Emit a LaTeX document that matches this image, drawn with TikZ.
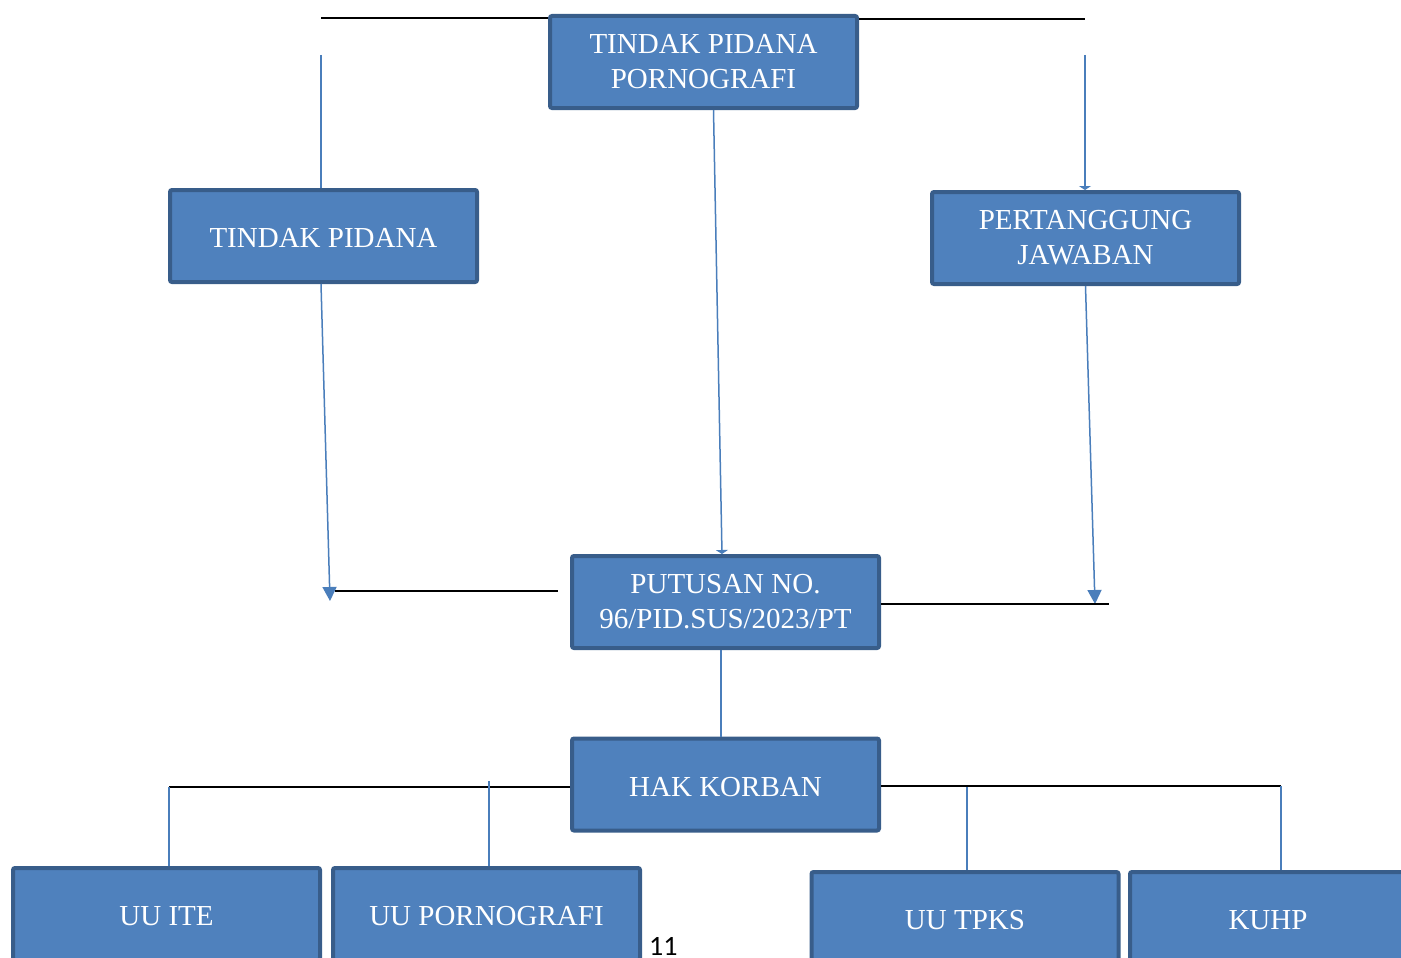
\documentclass[tikz,border=0pt]{standalone}
\usepackage{fontspec}
\setmainfont{Liberation Serif}
\newfontfamily\calibrifont{Carlito}
\usetikzlibrary{arrows.meta,calc}
\definecolor{boxfill}{HTML}{4F81BD}
\definecolor{boxline}{HTML}{385D8A}
\definecolor{conn}{HTML}{4A7EBB}
\begin{document}
\begin{tikzpicture}[x=1pt,y=-1pt,
  box/.style={draw=boxline, line width=4pt, fill=boxfill, rounded corners=2pt,
    minimum width=307pt, minimum height=92pt, text=white,
    font=\fontsize{29}{35}\selectfont, align=center, inner sep=0pt,
    execute at begin node={\rule{0pt}{24pt}}},
  box2/.style={box, execute at begin node={\rule{0pt}{28.5pt}}},
  bl/.style={draw=conn, line width=1.5pt},
  bk/.style={draw=black, line width=2pt},
  arr/.style={-{Triangle[width=14pt,length=14pt]}, color=conn},
  stub/.style={-{Triangle[width=12pt,length=4pt]}, color=conn}]
\useasboundingbox (0,0) rectangle (1401,958);
\clip (0,0) rectangle (1401,958);
% boxes
\node[box2] (top) at (703.5,62) {TINDAK PIDANA\\PORNOGRAFI};
\node[box] (tp) at (323.5,236) {TINDAK PIDANA};
\node[box2] (pj) at (1085.5,238) {PERTANGGUNG\\JAWABAN};
\node[box2] (put) at (725.5,602) {PUTUSAN NO.\\96/PID.SUS/2023/PT};
\node[box] (hak) at (725.5,784.5) {HAK KORBAN};
\node[box] (ite) at (166.5,914) {UU ITE};
\node[box] (upo) at (486.5,914) {UU PORNOGRAFI};
\node[box] (tpks) at (965,918) {UU TPKS};
\node[box, minimum width=276pt] (kuhp) at (1268,918) {KUHP};
% coordinates
\coordinate (tl) at (321,18);
\coordinate (tr) at (1085,19);
\coordinate (tlv) at (321,55);
\coordinate (trv) at (1085,55);
\coordinate (tpa) at (330,601);
\coordinate (lbs) at (335,591);
\coordinate (lbe) at (558,591);
\coordinate (pja) at (1095,604);
\coordinate (rb) at (1109,604);
\coordinate (hl) at (169,787);
\coordinate (hm) at (489,781);
\coordinate (hr) at (1281,786);
\coordinate (hr2) at (967,787);
% top connectors
\draw[bk] (tl) -- (tl -| top.west);
\draw[bk] (tr -| top.east) -- (tr);
\draw[bl] (tlv) -- (tlv |- tp.north);
\draw[bl,stub] (trv) -- (trv |- pj.north);
\draw[bl,stub] ([xshift=10pt]top.south) -- ([xshift=-3.5pt]put.north);
% middle connectors
\draw[bl,arr] ([xshift=-2.5pt]tp.south) -- (tpa);
\draw[bk] (lbs) -- (lbe);
\draw[bl,arr] (pj.south) -- (pja);
\draw[bk] (rb -| put.east) -- (rb);
\draw[bl] ([xshift=-4.5pt]put.south) -- ([xshift=-4.5pt]hak.north);
% bottom connectors
\draw[bk] (hak.west |- hl) -- (hl);
\draw[bl] (hl) -- (hl |- ite.north);
\draw[bl] (hm) -- (hm |- upo.north);
\draw[bk] (hak.east |- hr) -- (hr);
\draw[bl] (hr) -- (hr |- kuhp.north);
\draw[bl] (hr2) -- (hr2 |- tpks.north);
% page number
\node[font=\calibrifont\fontsize{28}{32}\selectfont, anchor=base west, inner sep=0pt] (pg) at (649,955) {11};
\end{tikzpicture}
\end{document}
